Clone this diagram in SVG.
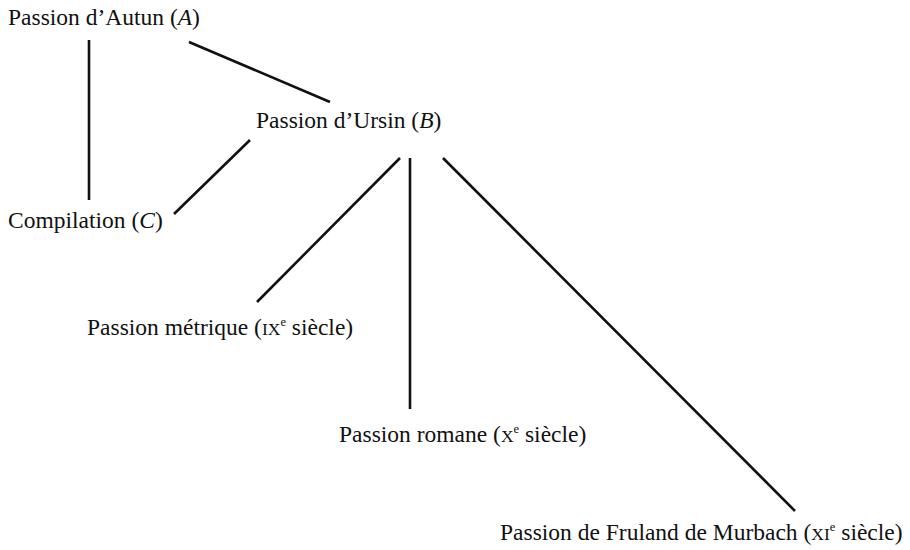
<svg xmlns="http://www.w3.org/2000/svg" width="910" height="550" viewBox="0 0 910 550">
<style>
text{font-family:"Liberation Serif","Times New Roman",serif;font-size:23.5px;fill:#111}
.sc{font-size:17.5px}
.sup{font-size:12.5px}
.edge{stroke:#111;stroke-width:2.6;fill:none;stroke-linecap:butt}
</style>
<rect width="910" height="550" fill="#fff"/>
<g id="connectors">
<line class="edge" x1="89" y1="40" x2="89" y2="200"/>
<line class="edge" x1="189" y1="42" x2="330" y2="102"/>
<line class="edge" x1="250" y1="140" x2="174" y2="214"/>
<line class="edge" x1="400" y1="158" x2="257" y2="302"/>
<line class="edge" x1="410" y1="158" x2="410" y2="409"/>
<line class="edge" x1="443" y1="158" x2="795" y2="511"/>
</g>
<g id="nodeA"><text x="8" y="25">Passion d’Autun (<tspan font-style="italic">A</tspan>)</text></g>
<g id="nodeB"><text x="256" y="128">Passion d’Ursin (<tspan font-style="italic">B</tspan>)</text></g>
<g id="nodeC"><text x="8" y="228">Compilation (<tspan font-style="italic">C</tspan>)</text></g>
<g id="nodeMetrique"><text x="87" y="335">Passion métrique (<tspan class="sc">IX</tspan><tspan class="sup" dy="-9">e</tspan><tspan dy="9"> siècle)</tspan></text></g>
<g id="nodeRomane"><text x="339" y="442">Passion romane (<tspan class="sc">X</tspan><tspan class="sup" dy="-9">e</tspan><tspan dy="9"> siècle)</tspan></text></g>
<g id="nodeFruland"><text x="500" y="540">Passion de Fruland de Murbach (<tspan class="sc">XI</tspan><tspan class="sup" dy="-9">e</tspan><tspan dy="9"> siècle)</tspan></text></g>
</svg>
